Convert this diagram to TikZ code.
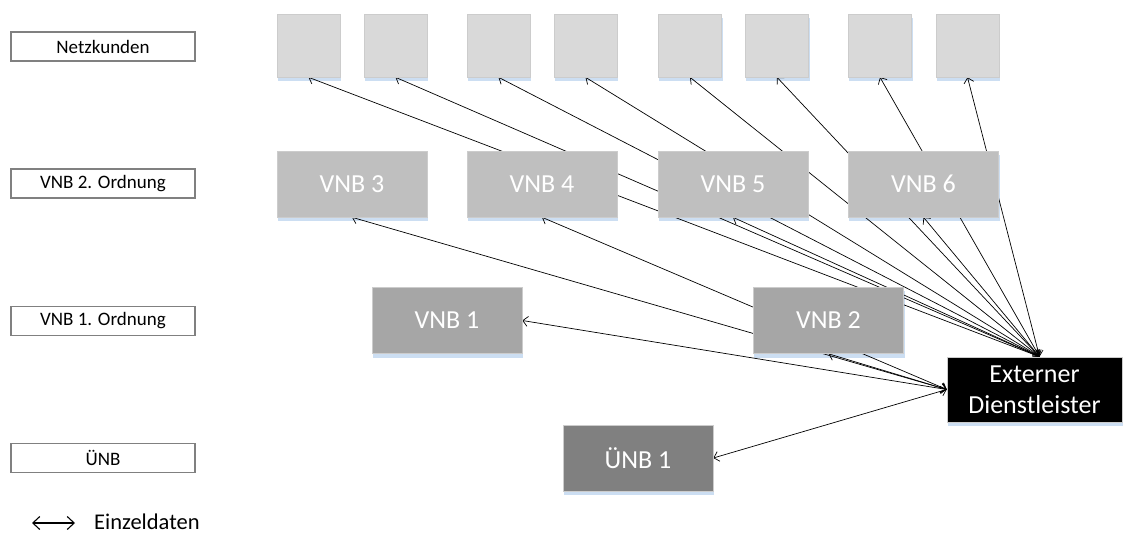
\documentclass[tikz,border=0pt]{standalone}
\usepackage{fontspec}
\setmainfont{Carlito}
\usepackage{tikz}
\usetikzlibrary{arrows.meta}
\usetikzlibrary{backgrounds}

\definecolor{shadowblue}{RGB}{204,222,242}
\definecolor{kundegray}{RGB}{217,217,217}
\definecolor{zweitegray}{RGB}{191,191,191}
\definecolor{erstegray}{RGB}{166,166,166}
\definecolor{uenbgray}{RGB}{128,128,128}

\pgfdeclarelayer{shadow}
\pgfsetlayers{shadow,background,main}

\begin{document}
\begin{tikzpicture}[
            x=1pt, y=-1pt,
            >={Straight Barb[length=5pt,width=10pt]},
            legend node/.style={draw=gray, line width=1.2pt, fill=white, minimum width=184pt, minimum height=29pt, inner sep=0pt, font=\fontsize{19}{22}\selectfont},
            box node/.style={draw=black!20, line width=0.6pt, inner sep=0pt, text=white},
            kunde node/.style={box node, fill=kundegray, minimum width=63pt, minimum height=63pt},
            vnb node/.style={box node, minimum width=150pt, minimum height=66pt, font=\fontsize{26}{31}\selectfont},
            daten/.style={<->, line width=0.7pt},
            ]
            \useasboundingbox (0,0) rectangle (1126,534);

            % Ebenen links
            \node[legend node] (l1) at (103,46.5) {Netzkunden};
            \node[legend node] (l2) at (103,183.5) {VNB 2. Ordnung};
            \node[legend node] (l3) at (103,321) {VNB 1. Ordnung};
            \node[legend node] (l4) at (103,458) {ÜNB};

            % Netzkunden
            \node[kunde node] (nk1) at (308.5,45.5) {};
            \node[kunde node] (nk2) at (395.5,45.5) {};
            \node[kunde node] (nk3) at (498.5,45.5) {};
            \node[kunde node] (nk4) at (585.5,45.5) {};
            \node[kunde node] (nk5) at (690,45.5) {};
            \node[kunde node] (nk6) at (777,45.5) {};
            \node[kunde node] (nk7) at (880,45.5) {};
            \node[kunde node] (nk8) at (967.5,45.5) {};

            % Netzbetreiber
            \node[vnb node, fill=zweitegray] (vnb3) at (352,184) {VNB 3};
            \node[vnb node, fill=zweitegray] (vnb4) at (542,184) {VNB 4};
            \node[vnb node, fill=zweitegray] (vnb5) at (733,184) {VNB 5};
            \node[vnb node, fill=zweitegray] (vnb6) at (923.5,184) {VNB 6};
            \node[vnb node, fill=erstegray] (vnb1) at (447,320.5) {VNB 1};
            \node[vnb node, fill=erstegray] (vnb2) at (828.5,320.5) {VNB 2};
            \node[vnb node, fill=uenbgray] (uenb1) at (638,458) {ÜNB 1};
            \node[vnb node, fill=black, minimum width=175pt, minimum height=65pt, align=center] (ext) at (1034.5,389.5) {Externer\\Dienstleister};

            % hellblaue Schatten unter den Kaesten
            \begin{pgfonlayer}{shadow}
            \foreach \n in {nk1,nk2,nk3,nk4,nk5,nk6,nk7,nk8,vnb1,vnb2,vnb3,vnb4,vnb5,vnb6,uenb1,ext}
                \fill[shadowblue] ([shift={(1pt,-4pt)}]\n.south west) rectangle ([shift={(1pt,-4pt)}]\n.north east);
            \end{pgfonlayer}

            % Datenfluesse hinter den Kaesten
            \begin{pgfonlayer}{background}
            \draw[daten] (nk1.south) -- ([xshift=5pt]ext.north);
            \draw[daten] (nk2.south) -- ([xshift=5pt]ext.north);
            \draw[daten] (nk3.south) -- ([xshift=5pt]ext.north);
            \draw[daten] (nk4.south) -- ([xshift=5pt]ext.north);
            \draw[daten] (nk5.south) -- ([xshift=5pt]ext.north);
            \draw[daten] (nk6.south) -- ([xshift=5pt]ext.north);
            \draw[daten] (nk7.south) -- ([xshift=5pt]ext.north);
            \draw[daten] (nk8.south) -- ([xshift=5pt]ext.north);
            \draw[daten] (vnb5.south) -- ([xshift=5pt]ext.north);
            \draw[daten] (vnb6.south) -- ([xshift=5pt]ext.north);
            \draw[daten] (vnb3.south) -- (ext.west);
            \draw[daten] (vnb4.south) -- (ext.west);
            \draw[daten] (vnb2.south) -- (ext.west);
            \draw[daten] (vnb1.east) -- (ext.west);
            \draw[daten] (uenb1.east) -- (ext.west);
            \end{pgfonlayer}

            % Legende
            \coordinate (ein a) at (32,523);
            \coordinate (ein b) at (75,523);
            \draw[daten, line width=1.1pt, >={Straight Barb[length=7pt,width=13pt]}] (ein a) -- (ein b);
            \node[anchor=west, inner sep=0pt, font=\fontsize{22.5}{26}\selectfont] (einzel) at (94,522) {Einzeldaten};
        \end{tikzpicture}
\end{document}
